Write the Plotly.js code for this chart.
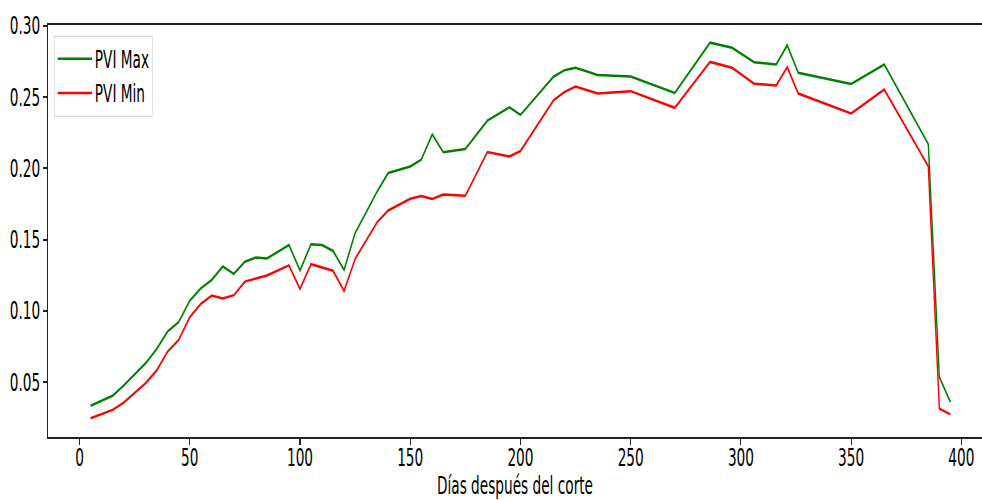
<!DOCTYPE html>
<html>
<head>
<meta charset="utf-8">
<script src="https://cdn.plot.ly/plotly-3.0.1.min.js"></script>
<style>
  html, body { margin: 0; padding: 0; background: #ffffff; }
  #wrap { width: 982px; height: 500px; overflow: hidden; position: relative; }
  #plot { width: 1723px; height: 500px; transform: scaleX(0.57); transform-origin: 0 0; }
</style>
</head>
<body>
<div id="wrap"><div id="plot"></div></div>
<script>
// Days after cutting
const days = [5,10,15,20,25,30,35,40,45,50,55,60,65,70,75,80,85,95,100,105,110,115,120,125,135,140,150,155,160,165,175,185,195,200,215,220,225,235,250,270,286,296,306,316,321,326,350,365,385,390,395];

const pviMax = [0.0335,0.0368,0.0405,0.0476,0.0555,0.0634,0.0733,0.0857,0.0922,0.1072,0.1158,0.1218,0.1312,0.1260,0.1345,0.1375,0.1368,0.1463,0.1284,0.1468,0.1463,0.1421,0.1288,0.1546,0.1838,0.1968,0.2014,0.2061,0.2239,0.2113,0.2136,0.2335,0.2429,0.2375,0.2643,0.2689,0.2706,0.2656,0.2645,0.2530,0.2882,0.2846,0.2745,0.2729,0.2864,0.2671,0.2593,0.2729,0.2170,0.0537,0.0361];

const pviMin = [0.0248,0.0277,0.0306,0.0357,0.0428,0.0494,0.0583,0.0716,0.0798,0.0957,0.1050,0.1108,0.1087,0.1111,0.1206,0.1230,0.1249,0.1320,0.1154,0.1328,0.1307,0.1282,0.1140,0.1365,0.1623,0.1705,0.1787,0.1806,0.1785,0.1817,0.1808,0.2115,0.2084,0.2122,0.2478,0.2537,0.2575,0.2525,0.2542,0.2425,0.2747,0.2706,0.2594,0.2582,0.2710,0.2525,0.2385,0.2553,0.2014,0.0315,0.0275];

const seriesNames = ["PVI Max", "PVI Min"];
const xTicks = [0,50,100,150,200,250,300,350,400];
const yTicks = [0.05,0.10,0.15,0.20,0.25,0.30];
const xLabel = "Días después del corte";

const FONT = "DejaVu Sans, Verdana, sans-serif";

const traces = [
  {x: days, y: pviMax, name: seriesNames[0], type: "scatter", mode: "lines",
   line: {color: "#008000", width: 2.5}},
  {x: days, y: pviMin, name: seriesNames[1], type: "scatter", mode: "lines",
   line: {color: "#ff0000", width: 2.5}}
];

const layout = {
  width: 1723, height: 500,
  margin: {l: 84, r: 0, t: 25, b: 63, pad: 0},
  paper_bgcolor: "#ffffff", plot_bgcolor: "#ffffff",
  font: {family: FONT, size: 24, color: "#000000"},
  showlegend: true,
  legend: {
    x: 0.0069, y: 0.974, xanchor: "left", yanchor: "top",
    bgcolor: "rgba(255,255,255,0.8)", bordercolor: "#cccccc", borderwidth: 1,
    font: {family: FONT, size: 24, color: "#000000"},
    itemwidth: 60
  },
  xaxis: {
    range: [-14.35, 409.4], tickvals: xTicks, ticktext: xTicks.map(String),
    showgrid: false, zeroline: false,
    showline: true, linecolor: "#222222", linewidth: 1.6, mirror: true,
    ticks: "outside", ticklen: 6, tickwidth: 1.6, tickcolor: "#222222",
    ticklabelstandoff: -8,
    tickfont: {family: FONT, size: 24},
    title: {text: xLabel, font: {family: FONT, size: 24}, standoff: 10}
  },
  yaxis: {
    range: [0.0116, 0.3006], tickvals: yTicks, ticktext: yTicks.map(v => v.toFixed(2)),
    showgrid: false, zeroline: false,
    showline: true, linecolor: "#222222", linewidth: 1.6, mirror: false,
    ticks: "outside", ticklen: 7, tickwidth: 1.6, tickcolor: "#222222",
    tickfont: {family: FONT, size: 24}
  }
};

Plotly.newPlot("plot", traces, layout, {displayModeBar: false, responsive: false});
</script>
</body>
</html>
